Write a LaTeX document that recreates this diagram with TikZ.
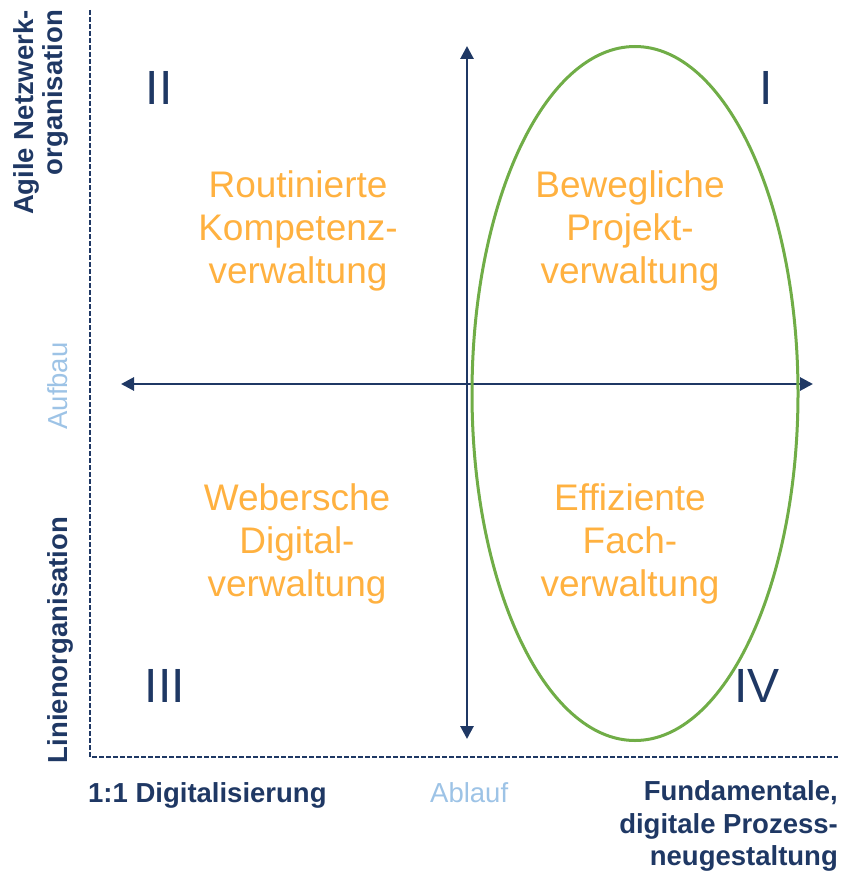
\documentclass[tikz,border=0pt]{standalone}
\usepackage{fontspec}
\setmainfont{Liberation Sans}
\usetikzlibrary{arrows.meta}
\definecolor{navy}{HTML}{1F3864}
\definecolor{amber}{HTML}{FFB140}
\definecolor{skyblue}{HTML}{9DC3E6}
\definecolor{leaf}{HTML}{70AD47}
\begin{document}
\begin{tikzpicture}[x=1pt, y=-1pt,
  quadrant/.style = {align=center, inner sep=0pt, text=amber,
    font=\fontsize{37}{43}\selectfont},
  numeral/.style = {inner sep=0pt, text=navy,
    font=\fontsize{48}{48}\selectfont},
  pole/.style = {inner sep=0pt, text=navy,
    font=\fontsize{27.5}{29}\selectfont\bfseries},
  dim/.style = {inner sep=0pt, text=skyblue,
    font=\fontsize{27.5}{29}\selectfont},
  axis/.style = {navy, line width=2.8pt,
    {Triangle[length=13pt,width=13pt]}-{Triangle[length=13pt,width=13pt]}}
  ]
  \useasboundingbox (0,0) rectangle (843,872);

  % frame
  \coordinate (top) at (90,10);
  \coordinate (corner) at (838,757);
  \draw[navy, line width=1.5pt, dash pattern=on 5pt off 2pt] (top) |- (corner);

  % axes
  \coordinate (west) at (121,384);
  \coordinate (east) at (813,384);
  \coordinate (north) at (467,46);
  \coordinate (south) at (467,739);
  \draw[axis] (west) -- (east);
  \draw[axis] (north) -- (south);

  \draw[leaf, line width=3pt] (635,393.5) ellipse [x radius=163pt, y radius=347pt];

  % quadrants
  \node[numeral] (q2) at (159,88) {II};
  \node[numeral] (q1) at (766,88) {I};
  \node[numeral] (q3) at (165,686) {III};
  \node[numeral] (q4) at (757,686) {IV};

  \node[quadrant] (routine) at (298,231) {Routinierte\\Kompetenz-\\verwaltung};
  \node[quadrant] (project) at (630,231) {Bewegliche\\Projekt-\\verwaltung};
  \node[quadrant] (weber) at (297,544) {Webersche\\Digital-\\verwaltung};
  \node[quadrant] (expert) at (630,544) {Effiziente\\Fach-\\verwaltung};

  % axis labels
  \node[pole, rotate=90, align=right, anchor=east] (agile) at (41,10)
    {Agile Netzwerk-\\organisation};
  \node[pole, rotate=90] (line) at (60,640) {Linienorganisation};
  \node[dim, rotate=90] (aufbau) at (58,386) {Aufbau};
  \node[pole, anchor=base west] (oneone) at (88,802) {1:1 Digitalisierung};
  \node[dim, anchor=base west] (ablauf) at (430,802) {Ablauf};
  \node[pole, align=right, anchor=north east, font=\fontsize{27.5}{32.5}\selectfont\bfseries]
    (redesign) at (838,780.5) {Fundamentale,\\digitale Prozess-\\neugestaltung};
\end{tikzpicture}
\end{document}
